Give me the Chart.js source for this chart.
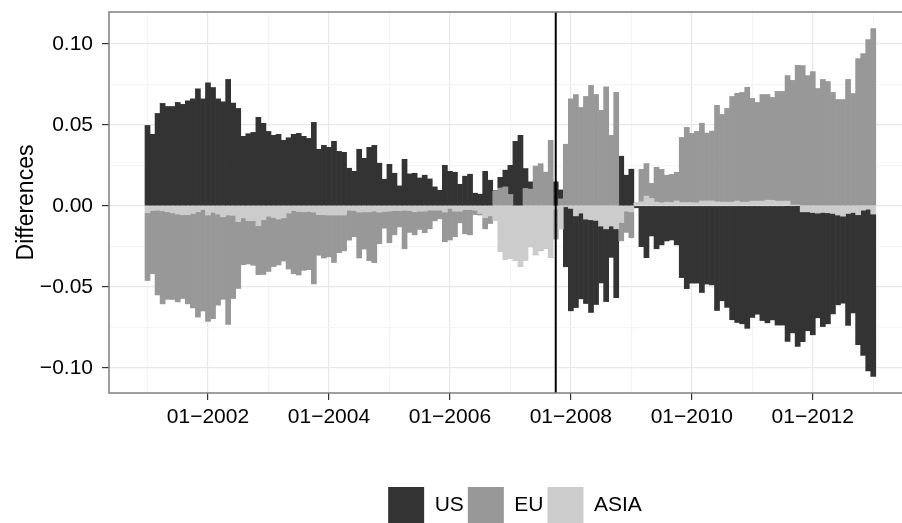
<!DOCTYPE html>
<html>
<head>
<meta charset="utf-8">
<script src="https://cdn.jsdelivr.net/npm/chart.js@4.4.1/dist/chart.umd.min.js"></script>
<style>
  html, body { margin: 0; padding: 0; background: #ffffff; }
  #wrap { width: 902px; height: 523px; overflow: hidden; position: relative; background: #fff; }
  canvas { display: block; }
</style>
</head>
<body>
<div id="wrap"><canvas id="c" width="1030" height="560" style="width:1030px;height:560px"></canvas></div>
<script>
// ---------------- data ----------------
const FIRST_YEAR = 2001;
const N_MONTHS = 145; // 01-2001 .. 01-2013
const months = [];
for (let i = 0; i < N_MONTHS; i++) {
  months.push(String(i % 12 + 1).padStart(2, '0') + '-' + (FIRST_YEAR + Math.floor(i / 12)));
}

const seriesNames = ['US', 'EU', 'ASIA'];

const us = [
  0.0496, 0.0441, 0.0570, 0.0632, 0.0613, 0.0613, 0.0638, 0.0626, 0.0648, 0.0660, 0.0722, 0.0660,
  0.0759, 0.0730, 0.0660, 0.0642, 0.0780, 0.0634, 0.0601, 0.0429, 0.0445, 0.0453, 0.0546, 0.0509,
  0.0459, 0.0435, 0.0441, 0.0404, 0.0420, 0.0441, 0.0447, 0.0429, 0.0416, 0.0515, 0.0349, 0.0373,
  0.0361, 0.0398, 0.0336, 0.0330, 0.0232, 0.0213, 0.0349, 0.0293, 0.0361, 0.0373, 0.0263, 0.0164,
  0.0256, 0.0201, 0.0123, 0.0287, 0.0197, 0.0201, 0.0172, 0.0189, 0.0166, 0.0117, 0.0096, 0.0250,
  0.0213, 0.0207, 0.0133, 0.0183, 0.0195, 0.0078, 0.0072, 0.0213, 0.0158, 0.0003, 0.0066, 0.0103,
  0.0180, 0.0398, 0.0435, 0.0123, 0.0045, 0.0000, 0.0000, 0.0000, 0.0000, 0.0148, 0.0055, -0.0370,
  -0.0632, -0.0566, -0.0529, -0.0521, -0.0572, -0.0519, -0.0351, -0.0449, -0.0193, -0.0425, 0.0306, 0.0189,
  0.0226, -0.0012, -0.0252, -0.0320, -0.0186, -0.0265, -0.0241, -0.0217, -0.0211, -0.0241, -0.0443, -0.0511,
  -0.0477, -0.0477, -0.0535, -0.0483, -0.0488, -0.0646, -0.0586, -0.0627, -0.0703, -0.0720, -0.0728, -0.0756,
  -0.0689, -0.0669, -0.0708, -0.0722, -0.0704, -0.0736, -0.0736, -0.0837, -0.0784, -0.0868, -0.0802, -0.0734,
  -0.0755, -0.0646, -0.0704, -0.0685, -0.0620, -0.0554, -0.0537, -0.0691, -0.0620, -0.0802, -0.0896, -0.0997,
  -0.1001
];

const eu = [
  -0.0418, -0.0390, -0.0523, -0.0574, -0.0540, -0.0535, -0.0542, -0.0517, -0.0550, -0.0583, -0.0650, -0.0626,
  -0.0656, -0.0656, -0.0562, -0.0509, -0.0675, -0.0513, -0.0412, -0.0289, -0.0267, -0.0275, -0.0302, -0.0338,
  -0.0341, -0.0303, -0.0283, -0.0267, -0.0345, -0.0390, -0.0392, -0.0361, -0.0359, -0.0443, -0.0250, -0.0267,
  -0.0258, -0.0293, -0.0232, -0.0221, -0.0185, -0.0162, -0.0283, -0.0230, -0.0302, -0.0318, -0.0195, -0.0103,
  -0.0195, -0.0150, -0.0101, -0.0238, -0.0135, -0.0142, -0.0113, -0.0133, -0.0115, -0.0066, -0.0053, -0.0183,
  -0.0195, -0.0158, -0.0072, -0.0150, -0.0156, -0.0027, -0.0010, -0.0068, -0.0047, 0.0090, 0.0110, 0.0117,
  0.0070, 0.0000, 0.0000, 0.0107, 0.0103, 0.0245, 0.0260, 0.0208, 0.0404, -0.0185, 0.0043, 0.0380,
  0.0660, 0.0687, 0.0607, 0.0675, 0.0743, 0.0687, 0.0589, 0.0734, 0.0435, 0.0700, -0.0113, -0.0131,
  -0.0160, 0.0003, 0.0200, 0.0201, 0.0094, 0.0215, 0.0207, 0.0166, 0.0174, 0.0177, 0.0402, 0.0464,
  0.0427, 0.0441, 0.0480, 0.0419, 0.0431, 0.0595, 0.0541, 0.0578, 0.0652, 0.0664, 0.0677, 0.0708,
  0.0634, 0.0609, 0.0658, 0.0652, 0.0636, 0.0677, 0.0677, 0.0775, 0.0769, 0.0862, 0.0866, 0.0804,
  0.0829, 0.0724, 0.0780, 0.0767, 0.0700, 0.0656, 0.0656, 0.0780, 0.0693, 0.0909, 0.0940, 0.1026,
  0.1093
];

const asia = [
  -0.0043, -0.0029, -0.0027, -0.0031, -0.0037, -0.0043, -0.0051, -0.0055, -0.0055, -0.0047, -0.0037, -0.0023,
  -0.0057, -0.0040, -0.0051, -0.0068, -0.0057, -0.0059, -0.0098, -0.0074, -0.0092, -0.0092, -0.0123, -0.0086,
  -0.0064, -0.0072, -0.0082, -0.0074, -0.0045, -0.0029, -0.0035, -0.0037, -0.0035, -0.0039, -0.0055, -0.0055,
  -0.0057, -0.0057, -0.0057, -0.0057, -0.0027, -0.0029, -0.0039, -0.0037, -0.0037, -0.0033, -0.0039, -0.0035,
  -0.0033, -0.0029, -0.0029, -0.0027, -0.0029, -0.0037, -0.0033, -0.0033, -0.0027, -0.0027, -0.0027, -0.0039,
  -0.0016, -0.0033, -0.0033, -0.0023, -0.0023, -0.0027, -0.0047, -0.0074, -0.0062, -0.0092, -0.0283, -0.0332,
  -0.0326, -0.0338, -0.0375, -0.0338, -0.0254, -0.0302, -0.0273, -0.0260, -0.0320, -0.0020, -0.0144, -0.0006,
  -0.0016, -0.0062, -0.0045, -0.0082, -0.0086, -0.0090, -0.0125, -0.0142, -0.0125, -0.0142, -0.0103, -0.0033,
  -0.0037, 0.0015, 0.0025, 0.0060, 0.0045, 0.0023, 0.0018, 0.0023, 0.0020, 0.0030, 0.0020, 0.0020,
  0.0020, 0.0018, 0.0030, 0.0030, 0.0030, 0.0025, 0.0023, 0.0023, 0.0023, 0.0030, 0.0023, 0.0023,
  0.0029, 0.0029, 0.0029, 0.0035, 0.0033, 0.0029, 0.0029, 0.0029, 0.0005, 0.0005, -0.0037, -0.0037,
  -0.0041, -0.0045, -0.0041, -0.0043, -0.0047, -0.0057, -0.0064, -0.0047, -0.0041, -0.0055, -0.0027, -0.0021,
  -0.0051
];

const xTickMonths = ['01-2002', '01-2004', '01-2006', '01-2008', '01-2010', '01-2012'];
const xTickLabels = ['01\u22122002', '01\u22122004', '01\u22122006', '01\u22122008', '01\u22122010', '01\u22122012'];
const xMinorMonths = ['01-2001', '01-2003', '01-2005', '01-2007', '01-2009', '01-2011', '01-2013'];
const yMajorTicks = [-0.10, -0.05, 0.00, 0.05, 0.10];
const yMinorTicks = [-0.075, -0.025, 0.025, 0.075];
const markerMonth = '10-2007';

// ---------------- chart ----------------
const FONT = '"Liberation Sans", Arial, Helvetica, sans-serif';
Chart.defaults.font.family = FONT;

const xMajorIdx = xTickMonths.map(m => months.indexOf(m));
const xMinorIdx = xMinorMonths.map(m => months.indexOf(m));
const xAllTicks = xMinorIdx.concat(xMajorIdx).sort((a, b) => a - b);
const yAllTicks = yMajorTicks.concat(yMinorTicks).sort((a, b) => a - b);
const isYMajor = v => yMajorTicks.some(t => Math.abs(t - v) < 1e-9);
const isXMajor = v => xMajorIdx.includes(v);

const toXY = arr => arr.map((v, i) => ({ x: i, y: v }));

const panelPlugin = {
  id: 'panel',
  afterDatasetsDraw(chart) {
    const { ctx, chartArea: a, scales: { x } } = chart;
    const px = x.getPixelForValue(months.indexOf(markerMonth));
    ctx.save();
    ctx.strokeStyle = '#000000';
    ctx.lineWidth = 2;
    ctx.beginPath();
    ctx.moveTo(px, a.top);
    ctx.lineTo(px, a.bottom);
    ctx.stroke();
    ctx.restore();
  },
  afterDraw(chart) {
    const { ctx, chartArea: a } = chart;
    ctx.save();
    ctx.strokeStyle = '#7f7f7f';
    ctx.lineWidth = 1.5;
    ctx.strokeRect(a.left, a.top, a.right - a.left + 20, a.bottom - a.top);
    ctx.restore();
  }
};

new Chart(document.getElementById('c'), {
  type: 'bar',
  data: {
    datasets: [
      { label: seriesNames[2], data: toXY(asia), backgroundColor: '#cccccc' },
      { label: seriesNames[1], data: toXY(eu), backgroundColor: '#989898' },
      { label: seriesNames[0], data: toXY(us), backgroundColor: '#333333' }
    ]
  },
  options: {
    responsive: false,
    devicePixelRatio: 1,
    animation: false,
    layout: { padding: { top: 12, bottom: 27, left: 0, right: 0 } },
    datasets: { bar: { barPercentage: 1, categoryPercentage: 1, borderWidth: 0 } },
    plugins: {
      tooltip: { enabled: false },
      legend: {
        position: 'bottom',
        reverse: true,
        labels: { boxWidth: 36, boxHeight: 36, padding: 4, color: '#000', font: { size: 21, family: FONT } }
      }
    },
    scales: {
      x: {
        type: 'linear',
        stacked: true,
        offset: false,
        min: -7.64,
        max: 175.1,
        border: { display: false },
        grid: {
          offset: false,
          drawTicks: true,
          tickLength: 7,
          lineWidth: 1.2,
          color: c => (c.tick && isXMajor(c.tick.value)) ? '#e8e8e8' : '#f5f5f5',
          tickColor: c => (c.tick && isXMajor(c.tick.value)) ? '#333333' : 'rgba(0,0,0,0)'
        },
        afterBuildTicks: ax => { ax.ticks = xAllTicks.map(v => ({ value: v })); },
        afterFit: ax => { ax.height = 90; ax.paddingLeft = 0; ax.paddingRight = 0; },
        ticks: {
          autoSkip: false, maxRotation: 0, minRotation: 0, padding: 5,
          color: '#000', font: { size: 21, family: FONT },
          callback: v => { const k = xMajorIdx.indexOf(v); return k >= 0 ? xTickLabels[k] : ''; }
        }
      },
      y: {
        type: 'linear',
        stacked: true,
        min: -0.1155,
        max: 0.1196,
        border: { display: false },
        grid: {
          drawTicks: true,
          tickLength: 7,
          lineWidth: 1.2,
          color: c => (c.tick && isYMajor(c.tick.value)) ? '#e8e8e8' : '#f5f5f5',
          tickColor: c => (c.tick && isYMajor(c.tick.value)) ? '#333333' : 'rgba(0,0,0,0)'
        },
        afterBuildTicks: ax => { ax.ticks = yAllTicks.map(v => ({ value: v })); },
        afterFit: ax => { ax.width = 109; ax.paddingTop = 0; ax.paddingBottom = 0; },
        title: { display: true, text: 'Differences', color: '#000', font: { size: 23, family: FONT }, padding: { top: 13, bottom: 0 } },
        ticks: {
          padding: 9, color: '#000', font: { size: 21, family: FONT },
          callback: v => isYMajor(v) ? v.toFixed(2).replace('-', '\u2212') : ''
        }
      }
    }
  },
  plugins: [panelPlugin]
});
</script>
</body>
</html>
